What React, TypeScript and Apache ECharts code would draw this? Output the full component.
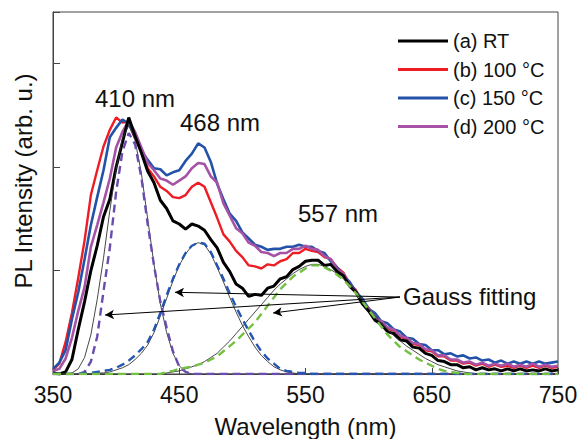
import React, { useEffect, useRef } from "react";
import * as echarts from "echarts";

const wavelength = [
  350, 355, 360, 365, 370, 375, 380, 385, 390, 395, 400, 405, 410, 415, 420, 425, 430, 435, 440, 445,
  450, 455, 460, 465, 470, 475, 480, 485, 490, 495, 500, 505, 510, 515, 520, 525, 530, 535, 540, 545,
  550, 555, 560, 565, 570, 575, 580, 585, 590, 595, 600, 605, 610, 615, 620, 625, 630, 635, 640, 645,
  650, 655, 660, 665, 670, 675, 680, 685, 690, 695, 700, 705, 710, 715, 720, 725, 730, 735, 740, 745, 750,
];

const rtValues = [
  0.01, 0.0, 0.02, 0.14, 0.43, 0.7, 1.0, 1.24, 1.52, 1.69, 2.0, 2.24, 2.48, 2.3, 2.14, 1.96, 1.85, 1.68, 1.6, 1.48,
  1.45, 1.4, 1.45, 1.43, 1.39, 1.3, 1.22, 1.08, 0.99, 0.87, 0.83, 0.75, 0.77, 0.76, 0.83, 0.85, 0.92, 0.94, 1.01, 1.04,
  1.09, 1.1, 1.1, 1.05, 1.06, 0.99, 0.95, 0.85, 0.79, 0.68, 0.61, 0.52, 0.48, 0.41, 0.39, 0.33, 0.32, 0.26, 0.25, 0.2,
  0.18, 0.13, 0.12, 0.09, 0.09, 0.06, 0.07, 0.04, 0.06, 0.04, 0.05, 0.03, 0.05, 0.03, 0.05, 0.03, 0.04, 0.03, 0.05, 0.03, 0.04,
];

const c100Values = [
  0.04, 0.1, 0.31, 0.59, 0.93, 1.29, 1.73, 1.97, 2.2, 2.36, 2.48, 2.43, 2.44, 2.28, 2.16, 1.99, 1.91, 1.81, 1.77, 1.71,
  1.7, 1.73, 1.81, 1.85, 1.81, 1.66, 1.51, 1.35, 1.28, 1.19, 1.13, 1.05, 1.04, 1.02, 1.06, 1.05, 1.09, 1.11, 1.17, 1.17,
  1.21, 1.19, 1.18, 1.13, 1.11, 1.03, 0.98, 0.87, 0.81, 0.7, 0.64, 0.55, 0.51, 0.44, 0.42, 0.36, 0.34, 0.29, 0.28, 0.23,
  0.22, 0.17, 0.17, 0.13, 0.13, 0.1, 0.11, 0.08, 0.1, 0.07, 0.09, 0.07, 0.08, 0.06, 0.08, 0.06, 0.08, 0.06, 0.08, 0.06, 0.07,
];

const c150Values = [
  0.05, 0.11, 0.23, 0.53, 0.79, 1.11, 1.44, 1.71, 1.97, 2.29, 2.38, 2.46, 2.42, 2.31, 2.16, 2.07, 1.99, 1.98, 1.92, 1.95,
  1.97, 2.06, 2.13, 2.23, 2.19, 2.05, 1.84, 1.69, 1.55, 1.48, 1.37, 1.31, 1.25, 1.23, 1.2, 1.21, 1.21, 1.23, 1.23, 1.25,
  1.23, 1.23, 1.19, 1.17, 1.09, 1.03, 0.95, 0.89, 0.79, 0.73, 0.63, 0.59, 0.51, 0.49, 0.43, 0.41, 0.35, 0.34, 0.29, 0.28,
  0.23, 0.23, 0.19, 0.2, 0.17, 0.18, 0.15, 0.16, 0.13, 0.14, 0.11, 0.13, 0.1, 0.12, 0.1, 0.12, 0.1, 0.12, 0.1, 0.11, 0.12,
];

const c200Values = [
  0.03, 0.05, 0.15, 0.35, 0.61, 0.84, 1.23, 1.44, 1.66, 1.89, 2.19, 2.34, 2.45, 2.34, 2.19, 2.04, 1.97, 1.89, 1.87, 1.83,
  1.87, 1.91, 1.99, 2.04, 2.03, 1.91, 1.85, 1.65, 1.53, 1.41, 1.36, 1.27, 1.24, 1.18, 1.17, 1.14, 1.17, 1.17, 1.21, 1.21,
  1.24, 1.21, 1.2, 1.14, 1.11, 1.01, 0.97, 0.86, 0.79, 0.69, 0.63, 0.54, 0.51, 0.45, 0.43, 0.37, 0.35, 0.3, 0.29, 0.24,
  0.23, 0.18, 0.18, 0.14, 0.14, 0.11, 0.12, 0.09, 0.11, 0.08, 0.1, 0.08, 0.1, 0.07, 0.09, 0.07, 0.1, 0.07, 0.09, 0.07, 0.08,
];

const gauss410Dashed = [
  0, 0, 0, 0, 0, 0.02, 0.12, 0.36, 0.8, 1.22, 1.76, 2.15, 2.33, 2.22, 1.9, 1.45, 1.05, 0.7, 0.45, 0.22,
  0.07, 0.02, 0, 0, 0, 0, 0, 0, 0, 0, 0, 0, 0, 0, 0, 0, 0, 0, 0, 0,
  0, 0, 0, 0, 0, 0, 0, 0, 0, 0, 0, 0, 0, 0, 0, 0, 0, 0, 0, 0,
  0, 0, 0, 0, 0, 0, 0, 0, 0, 0, 0, 0, 0, 0, 0, 0, 0, 0, 0, 0, 0,
];
const gauss410Thin = [
  0, 0, 0, 0.01, 0.05, 0.16, 0.38, 0.72, 1.12, 1.58, 1.98, 2.28, 2.4, 2.26, 1.94, 1.5, 1.06, 0.68, 0.4, 0.2,
  0.08, 0.02, 0, 0, 0, 0, 0, 0, 0, 0, 0, 0, 0, 0, 0, 0, 0, 0, 0, 0,
  0, 0, 0, 0, 0, 0, 0, 0, 0, 0, 0, 0, 0, 0, 0, 0, 0, 0, 0, 0,
  0, 0, 0, 0, 0, 0, 0, 0, 0, 0, 0, 0, 0, 0, 0, 0, 0, 0, 0, 0, 0,
];
const gauss468Dashed = [
  0, 0, 0, 0, 0, 0.01, 0.01, 0.02, 0.03, 0.04, 0.06, 0.09, 0.13, 0.18, 0.24, 0.31, 0.43, 0.59, 0.76, 0.92,
  1.06, 1.17, 1.24, 1.27, 1.26, 1.18, 1.05, 0.92, 0.78, 0.65, 0.53, 0.42, 0.31, 0.22, 0.15, 0.1, 0.05, 0.03, 0.02, 0.01,
  0.01, 0, 0, 0, 0, 0, 0, 0, 0, 0, 0, 0, 0, 0, 0, 0, 0, 0, 0, 0,
  0, 0, 0, 0, 0, 0, 0, 0, 0, 0, 0, 0, 0, 0, 0, 0, 0, 0, 0, 0, 0,
];
const gauss468Thin = [
  0, 0, 0, 0, 0, 0, 0, 0.01, 0.01, 0.02, 0.04, 0.06, 0.09, 0.14, 0.2, 0.28, 0.4, 0.56, 0.73, 0.9,
  1.05, 1.16, 1.24, 1.27, 1.25, 1.16, 1.03, 0.89, 0.74, 0.6, 0.47, 0.36, 0.26, 0.18, 0.12, 0.07, 0.04, 0.02, 0.01, 0,
  0, 0, 0, 0, 0, 0, 0, 0, 0, 0, 0, 0, 0, 0, 0, 0, 0, 0, 0, 0,
  0, 0, 0, 0, 0, 0, 0, 0, 0, 0, 0, 0, 0, 0, 0, 0, 0, 0, 0, 0, 0,
];
const gauss557Dashed = [
  0, 0, 0, 0, 0, 0, 0, 0, 0, 0, 0, 0, 0, 0, 0, 0, 0, 0, 0.02, 0.03,
  0.05, 0.06, 0.07, 0.09, 0.11, 0.14, 0.17, 0.22, 0.27, 0.32, 0.38, 0.44, 0.5, 0.58, 0.66, 0.74, 0.82, 0.88, 0.94, 0.98,
  1.02, 1.05, 1.05, 1.03, 1.0, 0.96, 0.91, 0.85, 0.78, 0.7, 0.62, 0.54, 0.46, 0.38, 0.32, 0.26, 0.22, 0.18, 0.14, 0.11,
  0.08, 0.05, 0.03, 0.02, 0.01, 0, 0, 0, 0, 0, 0, 0, 0, 0, 0, 0, 0, 0, 0, 0, 0,
];
const gauss557Thin = [
  0, 0, 0, 0, 0, 0, 0, 0, 0, 0, 0, 0, 0, 0, 0, 0, 0, 0, 0.01, 0.02,
  0.03, 0.05, 0.07, 0.09, 0.12, 0.16, 0.2, 0.26, 0.32, 0.39, 0.46, 0.53, 0.6, 0.67, 0.74, 0.81, 0.87, 0.92, 0.97, 1.01,
  1.04, 1.06, 1.06, 1.04, 1.01, 0.97, 0.92, 0.86, 0.79, 0.71, 0.63, 0.56, 0.49, 0.43, 0.37, 0.32, 0.27, 0.23, 0.19, 0.15,
  0.12, 0.09, 0.07, 0.05, 0.03, 0.02, 0.01, 0, 0, 0, 0, 0, 0, 0, 0, 0, 0, 0, 0, 0, 0,
];

const seriesNames = ["(a) RT", "(b) 100 °C", "(c) 150 °C", "(d) 200 °C"];
const peakLabels = ["410 nm", "468 nm", "557 nm"];
const xTicks = [350, 450, 550, 650, 750];

// arrow annotation: from label point to fitted curves (data coordinates)
const arrowStart = [624.8, 0.744];
const arrowEnds = [
  [391.2, 0.57],
  [446.6, 0.79],
  [524.3, 0.59],
];

const FONT = "'Liberation Sans', Arial, sans-serif";

const toPairs = (vals: number[]) => wavelength.map((w, i) => [w, vals[i]]);

export default function App() {
  const ref = useRef<HTMLDivElement>(null);
  useEffect(() => {
    if (!ref.current) return;
    const chart = echarts.init(ref.current, undefined, { renderer: "svg" });
    const spectra = [
      { name: seriesNames[1], vals: c100Values, color: "#ee1c24", w: 2.4 },
      { name: seriesNames[2], vals: c150Values, color: "#2352a8", w: 2.6 },
      { name: seriesNames[3], vals: c200Values, color: "#a652a6", w: 2.6 },
      { name: seriesNames[0], vals: rtValues, color: "#000000", w: 3 },
    ];
    const series: any[] = spectra.map((s) => ({
      name: s.name,
      type: "line",
      data: toPairs(s.vals),
      showSymbol: false,
      color: s.color,
      lineStyle: { color: s.color, width: s.w },
      z: 2,
    }));
    const thin = [gauss410Thin, gauss468Thin, gauss557Thin];
    thin.forEach((g, i) => {
      series.push({
        name: "fit-thin-" + i,
        type: "line",
        data: toPairs(g),
        showSymbol: false,
        color: "#333",
        lineStyle: { color: "#333", width: 0.9 },
        z: 3,
        markLine:
          i === 0
            ? {
                silent: true,
                animation: false,
                symbolSize: [7, 9],
                label: { show: false },
                lineStyle: { color: "#000", width: 1, type: "solid" },
                data: arrowEnds.map((e) => [
                  { coord: arrowStart, symbol: "none" },
                  { coord: e, symbol: "arrow" },
                ]),
              }
            : undefined,
      });
    });
    const dashed = [
      { vals: gauss410Dashed, color: "#6a4cae" },
      { vals: gauss468Dashed, color: "#2356b0" },
      { vals: gauss557Dashed, color: "#74c043" },
    ];
    dashed.forEach((d, i) => {
      series.push({
        name: "fit-dashed-" + i,
        type: "line",
        data: toPairs(d.vals),
        showSymbol: false,
        color: d.color,
        lineStyle: { color: d.color, width: 2.4, type: [8, 5] },
        z: 4,
      });
    });

    chart.setOption({
      animation: false,
      backgroundColor: "#ffffff",
      textStyle: { fontFamily: FONT },
      grid: {
        left: 53,
        right: 24,
        top: 12,
        bottom: 65,
        outerBoundsMode: "none",
        containLabel: false,
        show: true,
        borderColor: "#444",
        borderWidth: 1,
        backgroundColor: "transparent",
      },
      legend: {
        data: seriesNames,
        orient: "vertical",
        left: 393,
        top: 26,
        icon: "rect",
        itemWidth: 50,
        itemHeight: 3,
        itemGap: 8.5,
        textStyle: { fontSize: 20, lineHeight: 20, color: "#111", fontFamily: FONT },
      },
      xAxis: {
        type: "value",
        min: xTicks[0],
        max: xTicks[xTicks.length - 1],
        interval: 100,
        name: "Wavelength (nm)",
        nameLocation: "middle",
        nameGap: 40,
        nameTextStyle: { fontSize: 24, lineHeight: 24, color: "#111", fontFamily: FONT },
        axisLine: { show: true, lineStyle: { color: "#444", width: 1 } },
        axisTick: { show: true, inside: true, length: 6, lineStyle: { color: "#444" } },
        axisLabel: { fontSize: 23, color: "#111", margin: 9, fontFamily: FONT },
        splitLine: { show: false },
      },
      yAxis: {
        type: "value",
        min: 0,
        max: 3.5,
        interval: 1,
        axisLine: { show: true, lineStyle: { color: "#444", width: 1 } },
        axisTick: { show: true, inside: true, length: 7, lineStyle: { color: "#444" } },
        axisLabel: { show: false },
        splitLine: { show: false },
      },
      graphic: [
        {
          type: "text",
          x: 23,
          y: 181,
          rotation: Math.PI / 2,
          style: {
            text: "PL Intensity (arb. u.)",
            fontSize: 24,
            fontFamily: FONT,
            fill: "#111",
            align: "center",
            verticalAlign: "middle",
          },
        },
        {
          type: "text",
          x: 135,
          y: 98,
          style: { text: peakLabels[0], fontSize: 24, fontFamily: FONT, fill: "#111", align: "center", verticalAlign: "middle" },
        },
        {
          type: "text",
          x: 220,
          y: 122,
          style: { text: peakLabels[1], fontSize: 24, fontFamily: FONT, fill: "#111", align: "center", verticalAlign: "middle" },
        },
        {
          type: "text",
          x: 338,
          y: 213,
          style: { text: peakLabels[2], fontSize: 24, fontFamily: FONT, fill: "#111", align: "center", verticalAlign: "middle" },
        },
        {
          type: "text",
          x: 403,
          y: 296,
          style: { text: "Gauss fitting", fontSize: 24, fontFamily: FONT, fill: "#111", align: "left", verticalAlign: "middle" },
        },
      ],
      series,
    });
    return () => chart.dispose();
  }, []);
  return (
    <div
      ref={ref}
      style={{ position: "fixed", left: 0, top: 0, width: 582, height: 439, background: "#fff" }}
    />
  );
}
